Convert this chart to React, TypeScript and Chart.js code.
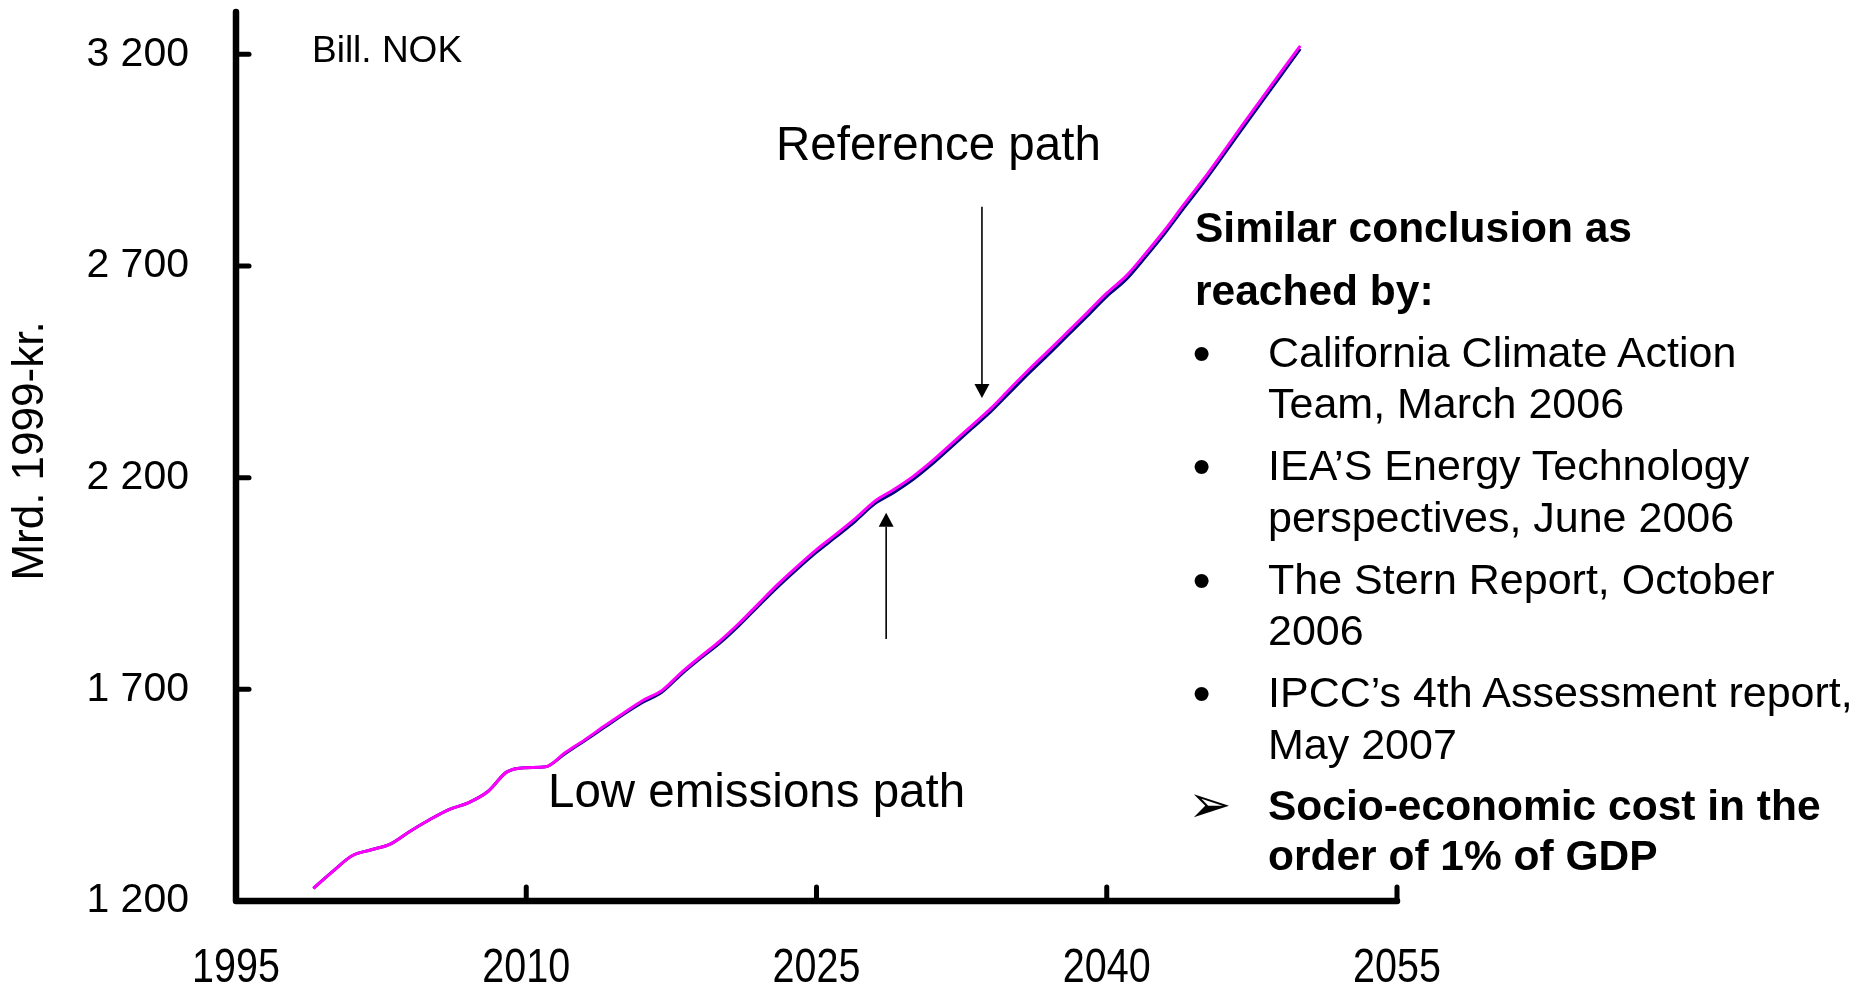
import React, { useEffect, useRef } from "react";
import { Chart, registerables } from "chart.js";

Chart.register(...registerables);

// ---------- data ----------
const YEARS = [
  1999, 2000, 2001, 2002, 2003, 2004, 2005, 2006, 2007, 2008,
  2009, 2010, 2011, 2012, 2013, 2014, 2015, 2016, 2017, 2018,
  2019, 2020, 2021, 2022, 2023, 2024, 2025, 2026, 2027, 2028,
  2029, 2030, 2031, 2032, 2033, 2034, 2035, 2036, 2037, 2038,
  2039, 2040, 2041, 2042, 2043, 2044, 2045, 2046, 2047, 2048,
  2049, 2050,
];

// Magenta line ("Reference path")
const REFERENCE_PATH = [
  1230, 1270, 1307, 1321, 1335, 1365, 1392, 1416, 1432, 1458,
  1505, 1515, 1517, 1550, 1580, 1612, 1643, 1673, 1697, 1739,
  1777, 1814, 1856, 1902, 1948, 1990, 2030, 2066, 2103, 2144,
  2172, 2203, 2240, 2281, 2322, 2363, 2410, 2456, 2500, 2545,
  2590, 2636, 2676, 2729, 2785, 2846, 2905, 2968, 3032, 3095,
  3158, 3220,
];

// Dark blue line ("Low emissions path")
const LOW_EMISSIONS_PATH = [
  1230, 1270, 1307, 1321, 1335, 1365, 1392, 1416, 1432, 1458,
  1505, 1515, 1517, 1548, 1578, 1609, 1640, 1669, 1693, 1735,
  1773, 1809, 1851, 1897, 1942, 1984, 2024, 2060, 2097, 2138,
  2165, 2196, 2233, 2274, 2315, 2356, 2402, 2448, 2492, 2537,
  2582, 2628, 2668, 2721, 2777, 2838, 2897, 2960, 3024, 3087,
  3150, 3213,
];

const X_TICKS = [1995, 2010, 2025, 2040, 2055];
const Y_TICKS = [1200, 1700, 2200, 2700, 3200];
const X_MIN = 1995;
const X_MAX = 2055;
const Y_MIN = 1200;
const Y_MAX = 3300;

const Y_TITLE = "Mrd. 1999-kr.";

const FONT = "'Liberation Sans', Arial, Helvetica, sans-serif";

const W = 1855;
const H = 982;

const fmtThousands = (v: number) =>
  String(Math.round(v)).replace(/\B(?=(\d{3})+(?!\d))/g, " ");

// ---------- custom drawing: axes with inward ticks, x labels, arrows, y-title ----------
const decorPlugin = {
  id: "decor",
  afterDraw(chart: any) {
    const { ctx, scales } = chart;
    const xs = scales.x;
    const ys = scales.y;
    const x0 = xs.getPixelForValue(X_MIN);
    const x1 = xs.getPixelForValue(X_MAX);
    const yb = ys.getPixelForValue(Y_MIN);
    const yt = ys.getPixelForValue(Y_MAX);

    ctx.save();
    ctx.strokeStyle = "#000";
    ctx.lineCap = "round";
    ctx.lineJoin = "round";

    // axis lines
    ctx.lineWidth = 6.5;
    ctx.beginPath();
    ctx.moveTo(x0, yt);
    ctx.lineTo(x0, yb);
    ctx.lineTo(x1, yb);
    ctx.stroke();

    // inward ticks
    ctx.lineWidth = 5;
    Y_TICKS.forEach((v) => {
      const py = ys.getPixelForValue(v);
      ctx.beginPath();
      ctx.moveTo(x0, py);
      ctx.lineTo(x0 + 13, py);
      ctx.stroke();
    });
    X_TICKS.forEach((v) => {
      const px = xs.getPixelForValue(v);
      ctx.beginPath();
      ctx.moveTo(px, yb);
      ctx.lineTo(px, yb - 14);
      ctx.stroke();
    });

    // x tick labels (vertically stretched, as in the source)
    ctx.fillStyle = "#000";
    ctx.font = `39.5px ${FONT}`;
    ctx.textAlign = "center";
    ctx.textBaseline = "alphabetic";
    X_TICKS.forEach((v) => {
      const px = xs.getPixelForValue(v);
      ctx.save();
      ctx.translate(px, yb + 81);
      ctx.scale(1, 1.23);
      ctx.fillText(String(v), 0, 0);
      ctx.restore();
    });

    // arrows (anchored in data space)
    const arrow = (xv: number, fromV: number, toV: number) => {
      const px = xs.getPixelForValue(xv);
      const pf = ys.getPixelForValue(fromV);
      const pt = ys.getPixelForValue(toV);
      const dir = pt > pf ? 1 : -1;
      const headH = 14;
      const headW = 7.5;
      ctx.lineWidth = 1.6;
      ctx.lineCap = "butt";
      ctx.beginPath();
      ctx.moveTo(px, pf);
      ctx.lineTo(px, pt - dir * headH);
      ctx.stroke();
      ctx.fillStyle = "#000";
      ctx.beginPath();
      ctx.moveTo(px, pt);
      ctx.lineTo(px - headW, pt - dir * headH);
      ctx.lineTo(px + headW, pt - dir * headH);
      ctx.closePath();
      ctx.fill();
    };
    arrow(2033.55, 2840, 2388);
    arrow(2028.6, 1819, 2117);

    // y-axis title
    ctx.fillStyle = "#000";
    ctx.font = `44px ${FONT}`;
    ctx.textAlign = "center";
    ctx.textBaseline = "middle";
    ctx.translate(30.5, 451);
    ctx.rotate(-Math.PI / 2);
    ctx.fillText(Y_TITLE, 0, 0);
    ctx.restore();
  },
};

// ---------- overlay text helper (page coordinates) ----------
function Txt(props: {
  left: number;
  baseline: number;
  size: number;
  bold?: boolean;
  children: React.ReactNode;
}) {
  const { left, baseline, size, bold, children } = props;
  return (
    <div
      style={{
        position: "absolute",
        left,
        top: baseline - 0.8465 * size,
        fontSize: size,
        lineHeight: 1,
        fontFamily: FONT,
        fontWeight: bold ? 700 : 400,
        whiteSpace: "nowrap",
        color: "#000",
      }}
    >
      {children}
    </div>
  );
}

export default function App() {
  const canvasRef = useRef<HTMLCanvasElement | null>(null);

  useEffect(() => {
    if (!canvasRef.current) return;
    Chart.defaults.font.family = FONT;
    const refData = YEARS.map((yr, i) => ({ x: yr, y: REFERENCE_PATH[i] }));
    const lowData = YEARS.map((yr, i) => ({ x: yr, y: LOW_EMISSIONS_PATH[i] }));

    const chart = new Chart(canvasRef.current, {
      type: "line",
      data: {
        datasets: [
          {
            label: "Reference path",
            data: refData,
            borderColor: "#FF00FF",
            borderWidth: 3,
            pointRadius: 0,
            cubicInterpolationMode: "monotone",
            fill: false,
          },
          {
            label: "Low emissions path",
            data: lowData,
            borderColor: "#000080",
            borderWidth: 3,
            pointRadius: 0,
            cubicInterpolationMode: "monotone",
            fill: false,
          },
        ],
      },
      options: {
        animation: false,
        responsive: false,
        maintainAspectRatio: false,
        events: [],
        layout: { padding: { left: 0, top: 12, right: 458, bottom: 0 } },
        plugins: {
          legend: { display: false },
          tooltip: { enabled: false },
          title: { display: false },
        },
        scales: {
          x: {
            type: "linear",
            min: X_MIN,
            max: X_MAX,
            grid: { display: false, drawTicks: false },
            border: { display: false },
            afterBuildTicks: (scale: any) => {
              scale.ticks = X_TICKS.map((v) => ({ value: v }));
            },
            afterFit: (scale: any) => {
              scale.height = 81;
              scale.paddingLeft = 0;
              scale.paddingRight = 0;
            },
            ticks: {
              display: false,
              maxRotation: 0,
              autoSkip: false,
              callback: (v: any) => String(v),
            },
          },
          y: {
            type: "linear",
            min: Y_MIN,
            max: Y_MAX,
            grid: { display: false, drawTicks: false },
            border: { display: false },
            afterBuildTicks: (scale: any) => {
              scale.ticks = Y_TICKS.map((v) => ({ value: v }));
            },
            afterFit: (scale: any) => {
              scale.width = 236;
              scale.paddingTop = 0;
              scale.paddingBottom = 0;
            },
            ticks: {
              color: "#000",
              font: { size: 41, family: FONT },
              padding: 47,
              autoSkip: false,
              callback: (v: any) => fmtThousands(Number(v)),
            },
          },
        },
      },
      plugins: [decorPlugin],
    } as any);

    return () => chart.destroy();
  }, []);

  return (
    <div
      style={{
        position: "fixed",
        left: 0,
        top: 0,
        width: W,
        height: H,
        overflow: "hidden",
        background: "#fff",
      }}
    >
      <canvas
        ref={canvasRef}
        width={W}
        height={H}
        style={{ position: "absolute", left: 0, top: 0, display: "block", width: W, height: H }}
      />
      <Txt left={312} baseline={62.3} size={37}>Bill. NOK</Txt>
      <Txt left={776} baseline={160.7} size={47.5}>Reference path</Txt>
      <Txt left={548} baseline={807} size={47.5}>Low emissions path</Txt>

      <Txt left={1195} baseline={243} size={42.5} bold>Similar conclusion as</Txt>
      <Txt left={1195} baseline={305.5} size={42.5} bold>reached by:</Txt>

      <Txt left={1192.5} baseline={370.8} size={52}>•</Txt>
      <Txt left={1268} baseline={367} size={43}>California Climate Action</Txt>
      <Txt left={1268} baseline={418.5} size={43}>Team, March 2006</Txt>

      <Txt left={1192.5} baseline={484.3} size={52}>•</Txt>
      <Txt left={1268} baseline={480.5} size={43}>IEA’S Energy Technology</Txt>
      <Txt left={1268} baseline={532} size={43}>perspectives, June 2006</Txt>

      <Txt left={1192.5} baseline={597.8} size={52}>•</Txt>
      <Txt left={1268} baseline={594} size={43}>The Stern Report, October</Txt>
      <Txt left={1268} baseline={645} size={43}>2006</Txt>

      <Txt left={1192.5} baseline={710.8} size={52}>•</Txt>
      <Txt left={1268} baseline={707} size={43}>IPCC’s 4th Assessment report,</Txt>
      <Txt left={1268} baseline={759} size={43}>May 2007</Txt>

      <Txt left={1187.5} baseline={822} size={52}>➢</Txt>
      <Txt left={1268} baseline={820.5} size={42.5} bold>Socio-economic cost in the</Txt>
      <Txt left={1268} baseline={871} size={42.5} bold>order of 1% of GDP</Txt>
    </div>
  );
}
